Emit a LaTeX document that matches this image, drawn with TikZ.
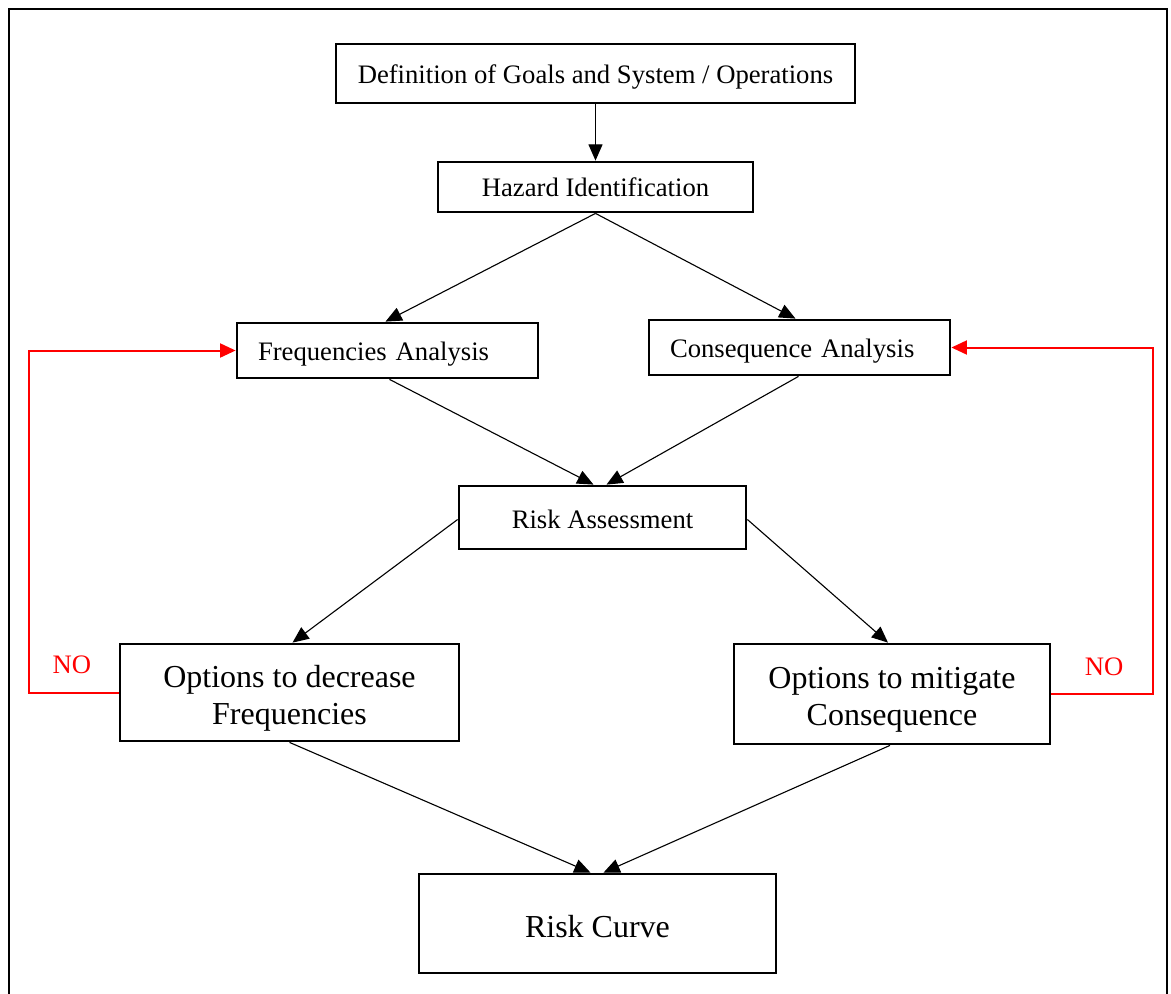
\documentclass[tikz,border=0pt]{standalone}
\usepackage{fontspec}
\setmainfont{Liberation Serif}
\usetikzlibrary{arrows.meta}
\newlength\pxu
\setlength\pxu{0.45pt}
% lower a label inside its box while keeping its measured size
\newcommand\lowered[2]{\raisebox{-#1\pxu}[\height][\depth]{#2}}
\newcommand\twolines[2]{\begin{tabular}{@{}c@{}}#1\\#2\end{tabular}}
\begin{document}
\begin{tikzpicture}[x=\pxu,y=-\pxu,
  box/.style={draw=black,line width=1.25pt,fill=white,inner sep=0pt,align=center,
    font=\fontsize{12pt}{14pt}\selectfont},
  bigbox/.style={box,font=\fontsize{14.4pt}{16.6pt}\selectfont},
  leftbox/.style={box,inner xsep=21\pxu,align=left},
  flow/.style={line width=0.5pt,-{Triangle[length=7.3pt,width=6.3pt]}},
  back/.style={draw=red,line width=0.9pt,-{Triangle[length=7pt,width=6.3pt]}},
  nolabel/.style={text=red,font=\fontsize{12pt}{14pt}\selectfont,inner sep=0pt}]
\useasboundingbox[fill=white] (0,0) rectangle (1171,993);
% open frame around the chart
\draw[line width=0.7pt] (9,1000) -- (9,9) -- (1167,9) -- (1167,1000);

% boxes
\node[box,minimum width=519\pxu,minimum height=59\pxu] (def) at (595.5,73.5)
  {\lowered{3}{Definition of Goals and System / Operations}};
\node[box,minimum width=315\pxu,minimum height=50\pxu] (haz) at (595.5,187)
  {Hazard Identification};
\node[leftbox,text width=259\pxu,minimum height=55\pxu] (fa) at (387.5,350.5)
  {\lowered{4}{Frequencies Analysis}};
\node[leftbox,text width=259\pxu,minimum height=55\pxu] (ca) at (799.5,347.5)
  {\lowered{4}{Consequence Analysis}};
\node[box,minimum width=287\pxu,minimum height=63\pxu] (ra) at (602.5,517.5)
  {\lowered{2}{Risk Assessment}};
\node[bigbox,minimum width=339\pxu,minimum height=97\pxu] (od) at (289.5,692.5)
  {\lowered{6}{\twolines{Options to decrease}{Frequencies}}};
\node[bigbox,minimum width=316\pxu,minimum height=100\pxu] (om) at (892,694)
  {\lowered{6}{\twolines{Options to mitigate}{Consequence}}};
\node[bigbox,minimum width=357\pxu,minimum height=99\pxu] (rc) at (597.5,923.5)
  {\lowered{3}{Risk Curve}};

% main flow
\draw[flow] (def.south) -- (haz.north);
\draw[flow] (haz.south) -- ([xshift=-2\pxu]fa.north);
\draw[flow] (haz.south) -- ([xshift=-4\pxu]ca.north);
\draw[flow] ([xshift=2\pxu]fa.south) -- ([xshift=-9\pxu]ra.north);
\draw[flow] ([xshift=-1\pxu]ca.south) -- ([xshift=4\pxu]ra.north);
\draw[flow] ([yshift=-2\pxu]ra.west) -- ([xshift=3\pxu]od.north);
\draw[flow] ([yshift=-2\pxu]ra.east) -- ([xshift=-4\pxu]om.north);
\draw[flow] (od.south) -- ([xshift=-7\pxu]rc.north);
\draw[flow] ([xshift=-2\pxu]om.south) -- ([xshift=6\pxu]rc.north);

% feedback loops
\coordinate (lb) at (29,692.5);
\coordinate (lt) at (29,350.5);
\coordinate (rb) at (1153,694);
\coordinate (rt) at (1153,347.5);
\draw[back] (od.west) -- (lb) -- (lt) -- (fa.west);
\draw[back] (om.east) -- (rb) -- (rt) -- (ca.east);
\node[nolabel] (nol) at (72,665) {NO};
\node[nolabel] (nor) at (1104,667) {NO};
\end{tikzpicture}
\end{document}
